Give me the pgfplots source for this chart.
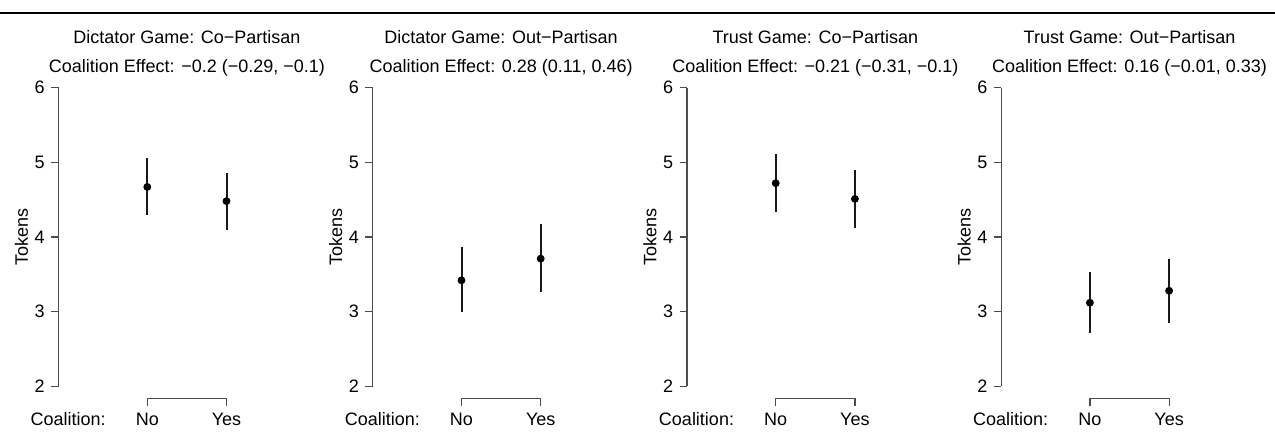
\documentclass[border=0pt]{standalone}
\usepackage{fontspec}
\setmainfont{Liberation Sans}
\usepackage{pgfplots}
\usepackage{pgfplotstable}
\pgfplotsset{compat=1.18}

\pgfplotstableread{
x y lo hi
1 4.67 4.29 5.06
2 4.48 4.10 4.86
}\tabA
\pgfplotstableread{
x y lo hi
1 3.42 2.99 3.86
2 3.71 3.26 4.18
}\tabB
\pgfplotstableread{
x y lo hi
1 4.72 4.33 5.11
2 4.51 4.12 4.90
}\tabC
\pgfplotstableread{
x y lo hi
1 3.12 2.71 3.53
2 3.28 2.85 3.71
}\tabD

\newcommand{\fs}{\fontsize{9}{11}\selectfont}

\pgfplotsset{
  panel/.style={
    scale only axis, width=128.3pt, height=161.4pt,
    xmin=-0.12, xmax=3.12, ymin=1.84, ymax=6.16,
    clip=false,
    axis line style={draw=none},
    tick pos=left, tick align=outside,
    major tick length=3.75pt,
    tick style={black!70, line width=0.6pt},
    xtick={1,2}, xticklabels={No,Yes},
    extra x ticks={0}, extra x tick labels={Coalition:},
    extra x tick style={major tick style={draw=none}},
    ytick={2,3,4,5,6}, yticklabels={2,3,4,5,6},
    tick label style={font=\fs},
    xticklabel style={text height=6.5pt, text depth=1.8pt, inner sep=3pt},
    yticklabel style={inner sep=3pt},
    anchor=south west,
  }
}

\newcommand{\panel}[4]{%
\begin{axis}[panel, at={(#1,16.8pt)}]
  \draw[black!70, line width=0.6pt] (axis cs:-0.12,2) -- (axis cs:-0.12,6);
  \draw[black!70, line width=0.6pt] (axis cs:1,1.84) -- (axis cs:2,1.84);
  \addplot[black, only marks, mark=*, mark size=1.75pt,
    error bars/.cd, y dir=both, y explicit, error mark=none,
    error bar style={line width=1pt, black!90}]
    table[x=x, y=y, y error plus expr=\thisrow{hi}-\thisrow{y},
          y error minus expr=\thisrow{y}-\thisrow{lo}] {#4};
  \node[anchor=base, font=\fs, yshift=15.8pt] at (rel axis cs:0.5,1) {#2};
  \node[anchor=base, font=\fs, yshift=1.3pt] at (rel axis cs:0.5,1) {#3};
  \node[anchor=base, font=\fs, rotate=90, xshift=0pt] at ([xshift=-15.3pt]rel axis cs:0,0.5) {Tokens};
\end{axis}}

\begin{document}
\begin{tikzpicture}
\draw[line width=1.2pt] (0,209.5pt) -- (637.5pt,209.5pt);
\panel{29.3pt}{Dictator Game: Co−Partisan}{Coalition Effect: −0.2 (−0.29, −0.1)}{\tabA}
\panel{186.4pt}{Dictator Game: Out−Partisan}{Coalition Effect: 0.28 (0.11, 0.46)}{\tabB}
\panel{343.5pt}{Trust Game: Co−Partisan}{Coalition Effect: −0.21 (−0.31, −0.1)}{\tabC}
\panel{500.6pt}{Trust Game: Out−Partisan}{Coalition Effect: 0.16 (−0.01, 0.33)}{\tabD}
\pgfresetboundingbox
\useasboundingbox (0,0) rectangle (637.5pt,216pt);
\end{tikzpicture}
\end{document}
